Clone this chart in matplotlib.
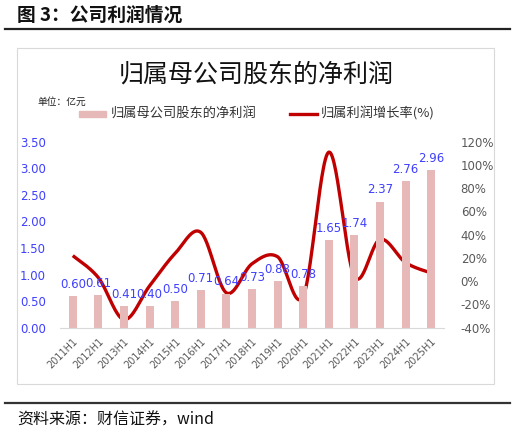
import numpy as np
import matplotlib
matplotlib.use("Agg")
import matplotlib.pyplot as plt
from matplotlib.lines import Line2D
from matplotlib.patches import Rectangle

plt.rcParams['font.family'] = ['Noto Sans CJK SC', 'DejaVu Sans']

# data
periods = ['2011H1', '2012H1', '2013H1', '2014H1', '2015H1', '2016H1', '2017H1', '2018H1',
           '2019H1', '2020H1', '2021H1', '2022H1', '2023H1', '2024H1', '2025H1']
profit = [0.60, 0.61, 0.41, 0.40, 0.50, 0.71, 0.64, 0.73, 0.88, 0.78, 1.65, 1.74, 2.37, 2.76, 2.96]
growth = [22, 3, -33, -4, 24, 42, -10, 15, 21, -13, 111, 4, 36, 16, 7]

left_ticks = [0.0, 0.5, 1.0, 1.5, 2.0, 2.5, 3.0, 3.5]
right_ticks = [-40, -20, 0, 20, 40, 60, 80, 100, 120]

BAR = '#E6B9B8'
LINE = '#C00000'
BLUE = '#3F3FFF'
GRAY = '#595959'


def smooth(xs, ys, n=30):
    # excel-like smoothed line (catmull-rom bezier)
    xs = np.asarray(xs, float)
    ys = np.asarray(ys, float)
    px = np.concatenate([[xs[0]], xs, [xs[-1]]])
    py = np.concatenate([[ys[0]], ys, [ys[-1]]])
    outx, outy = [], []
    t = np.linspace(0, 1, n)
    for i in range(1, len(px) - 2):
        p0 = np.array([px[i], py[i]])
        p3 = np.array([px[i + 1], py[i + 1]])
        c1 = p0 + (np.array([px[i + 1], py[i + 1]]) - np.array([px[i - 1], py[i - 1]])) / 6
        c2 = p3 - (np.array([px[i + 2], py[i + 2]]) - np.array([px[i], py[i]])) / 6
        b = ((1 - t) ** 3)[:, None] * p0 + (3 * (1 - t) ** 2 * t)[:, None] * c1 \
            + (3 * (1 - t) * t ** 2)[:, None] * c2 + (t ** 3)[:, None] * p3
        outx.extend(b[:, 0])
        outy.extend(b[:, 1])
    return outx, outy


fig = plt.figure(figsize=(5.15, 4.34), dpi=100)

# header, rules and outer box
fig.text(17 / 515, 1 - 15 / 434, '图 3：公司利润情况', fontsize=13.5, fontweight='bold',
         va='center', ha='left', color='#111111')
fig.add_artist(Line2D([5 / 515, 510 / 515], [1 - 28.7 / 434] * 2, color='#222222', lw=1.6))
fig.add_artist(Line2D([5 / 515, 510 / 515], [1 - 402.7 / 434] * 2, color='#333333', lw=1.6))
fig.add_artist(Rectangle((17 / 515, 1 - 384 / 434), 477 / 515, 336 / 434, fill=False,
                         edgecolor='#D9D9D9', lw=0.8))
fig.text(17 / 515, 1 - 420 / 434, '资料来源：财信证券，wind', fontsize=11.5, style='italic',
         va='center', ha='left', color='#111111')

fig.text(256 / 515, 1 - 75 / 434, '归属母公司股东的净利润', fontsize=18, ha='center', va='center',
         color='#111111')
fig.text(37 / 515, 1 - 102 / 434, '单位：亿元', fontsize=7, ha='left', va='center', color='#222222')

ax = fig.add_axes([60 / 515, 1 - 327.7 / 434, 384 / 515, 186 / 434])
x = np.arange(len(periods))
bars = ax.bar(x, profit, width=0.32, color=BAR, zorder=2, label='归属母公司股东的净利润')
for xi, v in zip(x, profit):
    ax.text(xi, v + 0.1, f'{v:.2f}', ha='center', va='bottom', fontsize=8.5, color=BLUE,
            family='DejaVu Sans', zorder=5)
ax.set_xlim(-0.5, len(periods) - 0.5)
ax.set_ylim(0, 3.5)
ax.set_yticks(left_ticks)
ax.set_yticklabels([f'{t:.2f}' for t in left_ticks], color=BLUE, fontsize=8.5, family='DejaVu Sans')
ax.set_xticks(x)
ax.set_xticklabels(periods, rotation=45, ha='right', rotation_mode='anchor', fontsize=7,
                   color=GRAY, family='DejaVu Sans')
ax.tick_params(length=0, axis='y', pad=10)
ax.tick_params(length=0, axis='x', pad=6)
for s in ['top', 'left', 'right']:
    ax.spines[s].set_visible(False)
ax.spines['bottom'].set_color('#D9D9D9')

ax2 = ax.twinx()
sx, sy = smooth(x, growth)
ax2.plot(sx, sy, color=LINE, lw=2.4, solid_capstyle='butt', zorder=3)
ax2.set_ylim(-40, 120)
ax2.set_yticks(right_ticks)
ax2.set_yticklabels([f'{t}%' for t in right_ticks], color=GRAY, fontsize=8.5, family='DejaVu Sans')
ax2.tick_params(length=0, pad=12)
for s in ['top', 'left', 'right', 'bottom']:
    ax2.spines[s].set_visible(False)
ax.set_zorder(ax2.get_zorder() + 1)
ax.patch.set_visible(False)

# legend drawn in figure coords
fig.add_artist(Rectangle((79 / 515, 1 - 117 / 434), 27 / 515, 6 / 434, color=BAR))
fig.text(111 / 515, 1 - 113.5 / 434, '归属母公司股东的净利润', fontsize=9.5, va='center', ha='left',
         color='#333333')
fig.add_artist(Line2D([290 / 515, 317 / 515], [1 - 114 / 434] * 2, color=LINE, lw=2.4))
fig.text(321 / 515, 1 - 113.5 / 434, '归属利润增长率(%)', fontsize=9.5, va='center', ha='left',
         color='#333333')

fig.savefig('out.png', dpi=100)
